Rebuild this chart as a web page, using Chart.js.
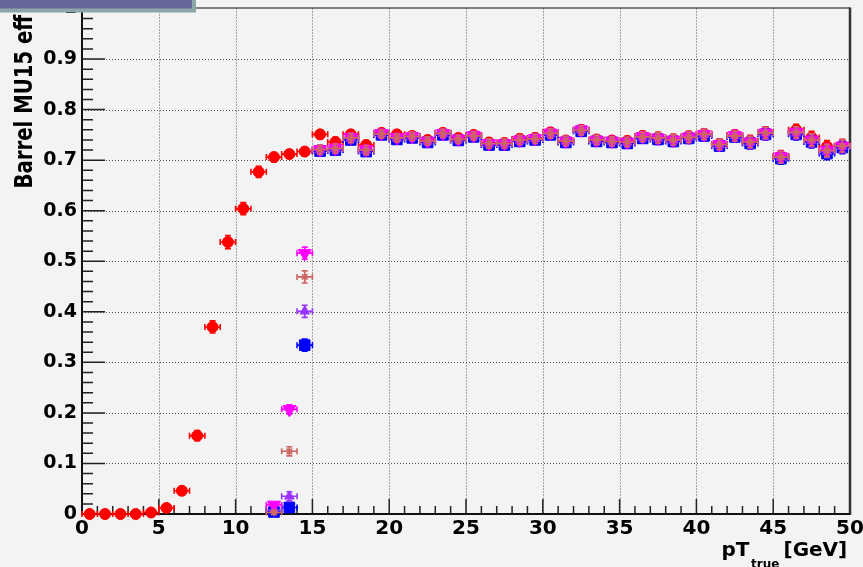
<!DOCTYPE html>
<html>
<head>
<meta charset="utf-8">
<script src="https://cdn.jsdelivr.net/npm/chart.js@4/dist/chart.umd.min.js"></script>
<style>
  html, body { margin: 0; padding: 0; background: #f3f3f3; }
  canvas { display: block; }
</style>
</head>
<body>
<canvas id="eff" width="863" height="567"></canvas>
<script>
// pT bin centres (1 GeV bins)
const pTBins = [0.5, 1.5, 2.5, 3.5, 4.5, 5.5, 6.5, 7.5, 8.5, 9.5,
  10.5, 11.5, 12.5, 13.5, 14.5, 15.5, 16.5, 17.5, 18.5, 19.5,
  20.5, 21.5, 22.5, 23.5, 24.5, 25.5, 26.5, 27.5, 28.5, 29.5,
  30.5, 31.5, 32.5, 33.5, 34.5, 35.5, 36.5, 37.5, 38.5, 39.5,
  40.5, 41.5, 42.5, 43.5, 44.5, 45.5, 46.5, 47.5, 48.5, 49.5];
const binHalfWidth = 0.5;

// efficiency per bin, one list per curve (null = empty bin)
const effRed = [0, 0, 0, 0, 0.003, 0.012, 0.046, 0.155, 0.370, 0.538,
  0.604, 0.677, 0.706, 0.712, 0.717, 0.751, 0.736, 0.751, 0.730, 0.754,
  0.751, 0.748, 0.740, 0.754, 0.744, 0.750, 0.735, 0.734, 0.742, 0.744,
  0.755, 0.739, 0.760, 0.741, 0.739, 0.738, 0.748, 0.745, 0.741, 0.747,
  0.752, 0.732, 0.750, 0.738, 0.755, 0.708, 0.760, 0.745, 0.727, 0.729];

const effBlue = [null, null, null, null, null, null, null, null, null, null,
  null, null, 0.004, 0.013, 0.334, 0.718, 0.720, 0.740, 0.717, 0.750,
  0.741, 0.744, 0.735, 0.750, 0.739, 0.746, 0.730, 0.730, 0.737, 0.740,
  0.750, 0.735, 0.757, 0.737, 0.735, 0.733, 0.743, 0.741, 0.737, 0.743,
  0.748, 0.728, 0.746, 0.733, 0.751, 0.703, 0.751, 0.736, 0.713, 0.725];

const effViolet = [null, null, null, null, null, null, null, null, null, null,
  null, null, 0.008, 0.035, 0.401, 0.720, 0.722, 0.743, 0.719, 0.752,
  0.743, 0.746, 0.737, 0.752, 0.741, 0.748, 0.732, 0.732, 0.739, 0.742,
  0.752, 0.737, 0.759, 0.739, 0.737, 0.735, 0.745, 0.743, 0.739, 0.745,
  0.750, 0.730, 0.748, 0.735, 0.753, 0.705, 0.753, 0.738, 0.717, 0.727];

const effBrown = [null, null, null, null, null, null, null, null, null, null,
  null, null, 0.003, 0.124, 0.469, 0.721, 0.723, 0.744, 0.720, 0.752,
  0.744, 0.747, 0.738, 0.753, 0.741, 0.748, 0.733, 0.733, 0.740, 0.742,
  0.753, 0.738, 0.759, 0.740, 0.737, 0.736, 0.746, 0.744, 0.740, 0.745,
  0.751, 0.731, 0.748, 0.736, 0.754, 0.706, 0.755, 0.740, 0.719, 0.728];

const effMagenta = [null, null, null, null, null, null, null, null, null, null,
  null, null, 0.018, 0.207, 0.516, 0.721, 0.724, 0.745, 0.721, 0.753,
  0.745, 0.747, 0.738, 0.753, 0.742, 0.749, 0.733, 0.733, 0.740, 0.743,
  0.754, 0.738, 0.760, 0.740, 0.738, 0.736, 0.747, 0.744, 0.740, 0.746,
  0.751, 0.731, 0.749, 0.736, 0.754, 0.707, 0.755, 0.740, 0.720, 0.728];

// vertical (statistical) errors
const errRed = [0, 0, 0, 0, 0.002, 0.004, 0.006, 0.010, 0.012, 0.013,
  0.012, 0.011, 0.009, 0.008, 0.008, 0.009, 0.009, 0.009, 0.009, 0.008,
  0.008, 0.008, 0.008, 0.008, 0.008, 0.008, 0.009, 0.009, 0.009, 0.009,
  0.009, 0.009, 0.009, 0.009, 0.009, 0.009, 0.009, 0.010, 0.010, 0.010,
  0.010, 0.010, 0.010, 0.011, 0.011, 0.011, 0.011, 0.012, 0.012, 0.012];

const errTrig = [null, null, null, null, null, null, null, null, null, null,
  null, null, 0.004, 0.009, 0.012, 0.009, 0.009, 0.009, 0.009, 0.008,
  0.008, 0.008, 0.008, 0.008, 0.008, 0.008, 0.009, 0.009, 0.009, 0.009,
  0.009, 0.009, 0.009, 0.009, 0.009, 0.009, 0.009, 0.010, 0.010, 0.010,
  0.010, 0.010, 0.010, 0.011, 0.011, 0.011, 0.011, 0.012, 0.012, 0.012];

// axis tick labels
const xTickLabels = ['0', '5', '10', '15', '20', '25', '30', '35', '40', '45', '50'];
const yTickLabels = ['0', '0.1', '0.2', '0.3', '0.4', '0.5', '0.6', '0.7', '0.8', '0.9', '1'];
const yTitle = 'Barrel MU15 eff';

const BG = '#f3f3f3';
const FONT = '"DejaVu Sans", "Liberation Sans", sans-serif';

function toPoints(values) {
  const pts = [];
  values.forEach((v, i) => { if (v !== null) pts.push({ x: pTBins[i], y: v }); });
  return pts;
}
function toErrors(values, errs) {
  const out = [];
  values.forEach((v, i) => { if (v !== null) out.push(errs[i]); });
  return out;
}

function series(values, errs, color, style, radius, order, extra) {
  return Object.assign({
    data: toPoints(values),
    yErr: toErrors(values, errs),
    pointStyle: style,
    pointRadius: radius,
    backgroundColor: color,
    borderColor: color,
    pointBorderWidth: 1,
    order: order,
    clip: false
  }, extra || {});
}

// dotted grid, inward ticks and frame
const axisFrame = {
  id: 'axisFrame',
  beforeDraw(chart) {
    const ctx = chart.ctx;
    ctx.save();
    ctx.fillStyle = BG;
    ctx.fillRect(0, 0, chart.width, chart.height);
    ctx.restore();
  },
  beforeDatasetsDraw(chart) {
    const { ctx, chartArea: a } = chart;
    const xs = chart.scales.x, ys = chart.scales.y;
    ctx.save();
    // grid
    ctx.strokeStyle = '#555';
    ctx.lineWidth = 1;
    ctx.setLineDash([1, 2]);
    ctx.beginPath();
    xs.ticks.forEach(t => {
      if (t.value <= xs.min || t.value >= xs.max) return;
      const px = Math.round(xs.getPixelForValue(t.value)) + 0.5;
      ctx.moveTo(px, a.top); ctx.lineTo(px, a.bottom);
    });
    ys.ticks.forEach(t => {
      if (t.value <= ys.min || t.value >= ys.max - 1e-9) return;
      const py = Math.round(ys.getPixelForValue(t.value)) + 0.5;
      ctx.moveTo(a.left, py); ctx.lineTo(a.right, py);
    });
    ctx.stroke();
    ctx.setLineDash([]);

    // tick marks pointing into the frame
    ctx.strokeStyle = '#222';
    ctx.lineWidth = 1.5;
    ctx.beginPath();
    for (let k = 0; k <= 50; k++) {
      const v = xs.min + k * (xs.max - xs.min) / 50;
      const px = xs.getPixelForValue(v);
      const len = (k % 5 === 0) ? 15 : 8;
      ctx.moveTo(px, a.bottom); ctx.lineTo(px, a.bottom - len);
    }
    for (let k = 0; k <= 50; k++) {
      const v = ys.min + k * (ys.max - ys.min) / 50;
      const py = ys.getPixelForValue(v);
      const len = (k % 5 === 0) ? 23 : 11;
      ctx.moveTo(a.left, py); ctx.lineTo(a.left + len, py);
    }
    ctx.stroke();

    // frame
    ctx.strokeStyle = '#111';
    ctx.lineWidth = 1.2;
    ctx.beginPath();
    ctx.moveTo(a.left, a.top - 0.5); ctx.lineTo(a.right, a.top - 0.5);
    ctx.stroke();
    ctx.lineWidth = 2.5;
    ctx.strokeStyle = '#333';
    ctx.beginPath();
    ctx.moveTo(a.right, a.top - 1); ctx.lineTo(a.right, a.bottom + 1);
    ctx.stroke();
    ctx.lineWidth = 2;
    ctx.strokeStyle = '#111';
    ctx.beginPath();
    ctx.moveTo(a.left, a.top - 1); ctx.lineTo(a.left, a.bottom);
    ctx.lineTo(a.right, a.bottom);
    ctx.stroke();
    ctx.restore();
  }
};

// horizontal bin-width bars and vertical error bars, drawn under each curve's markers
const errorBars = {
  id: 'errorBars',
  beforeDatasetDraw(chart, args) {
    const ds = chart.data.datasets[args.index];
    const xs = chart.scales.x, ys = chart.scales.y;
    const ctx = chart.ctx;
    const cap = 3;
    ctx.save();
    ctx.strokeStyle = ds.borderColor;
    ctx.lineWidth = 1.6;
    ctx.beginPath();
    ds.data.forEach((p, i) => {
      const px = xs.getPixelForValue(p.x);
      const py = ys.getPixelForValue(p.y);
      const xl = xs.getPixelForValue(p.x - binHalfWidth);
      const xr = xs.getPixelForValue(p.x + binHalfWidth);
      ctx.moveTo(xl, py); ctx.lineTo(xr, py);
      ctx.moveTo(xl, py - cap); ctx.lineTo(xl, py + cap);
      ctx.moveTo(xr, py - cap); ctx.lineTo(xr, py + cap);
      const e = ds.yErr[i];
      if (e > 0) {
        const yt = ys.getPixelForValue(p.y + e);
        const yb = ys.getPixelForValue(p.y - e);
        ctx.moveTo(px, yt); ctx.lineTo(px, yb);
        ctx.moveTo(px - cap, yt); ctx.lineTo(px + cap, yt);
        ctx.moveTo(px - cap, yb); ctx.lineTo(px + cap, yb);
      }
    });
    ctx.stroke();
    ctx.restore();
  }
};

// axis titles and the header box in the corner
const titles = {
  id: 'titles',
  afterDraw(chart) {
    const ctx = chart.ctx;
    ctx.save();
    ctx.fillStyle = '#000';
    ctx.textAlign = 'left';
    ctx.textBaseline = 'alphabetic';

    ctx.save();
    ctx.translate(31.5, 188.5);
    ctx.rotate(-Math.PI / 2);
    ctx.scale(1, 1.28);
    ctx.font = 'bold 19.7px ' + FONT;
    ctx.fillText(yTitle, 0, 0);
    ctx.restore();

    ctx.font = 'bold 20px ' + FONT;
    ctx.fillText('pT', 721.5, 556);
    ctx.font = 'bold 12px ' + FONT;
    ctx.fillText('true', 751, 568);
    ctx.font = 'bold 20px ' + FONT;
    ctx.fillText('[GeV]', 783.5, 556);

    ctx.fillStyle = '#8ca8a6';
    ctx.fillRect(0, 0, 196, 12.5);
    ctx.fillStyle = '#67679b';
    ctx.fillRect(0, 0, 192, 8.5);
    ctx.restore();
  }
};

new Chart(document.getElementById('eff'), {
  type: 'scatter',
  data: {
    datasets: [
      series(effRed, errRed, '#ff0000', 'circle', 5.5, 5),
      series(effBlue, errTrig, '#0000ff', 'rect', 7.5, 4),
      series(effViolet, errTrig, '#9933ff', 'triangle', 5.5, 3),
      series(effMagenta, errTrig, '#ff00ff', 'triangle', 7.5, 1, { pointRotation: 180 }),
      series(effBrown, errTrig, '#cc6660', 'star', 4, 0, { pointBorderWidth: 1.5 })
    ]
  },
  options: {
    responsive: false,
    animation: false,
    events: [],
    layout: { padding: { top: 8, right: 13, left: 0, bottom: 0 } },
    plugins: {
      legend: { display: false },
      tooltip: { enabled: false },
      title: { display: false }
    },
    scales: {
      x: {
        type: 'linear',
        min: 0,
        max: 50,
        grid: { display: false, drawTicks: false },
        border: { display: false },
        ticks: {
          stepSize: 5,
          autoSkip: false,
          maxRotation: 0,
          padding: 3,
          color: '#000',
          font: { family: FONT, weight: 'bold', size: 20 },
          callback: (v, i) => xTickLabels[i]
        },
        afterFit(s) { s.height = 53; s.paddingLeft = 0; s.paddingRight = 0; }
      },
      y: {
        type: 'linear',
        min: 0,
        max: 1,
        grid: { display: false, drawTicks: false },
        border: { display: false },
        ticks: {
          stepSize: 0.1,
          padding: 5,
          color: '#000',
          font: { family: FONT, weight: 'bold', size: 19 },
          callback: (v, i) => yTickLabels[i]
        },
        afterFit(s) { s.width = 82; s.paddingTop = 0; s.paddingBottom = 0; }
      }
    }
  },
  plugins: [axisFrame, errorBars, titles]
});
</script>
</body>
</html>
